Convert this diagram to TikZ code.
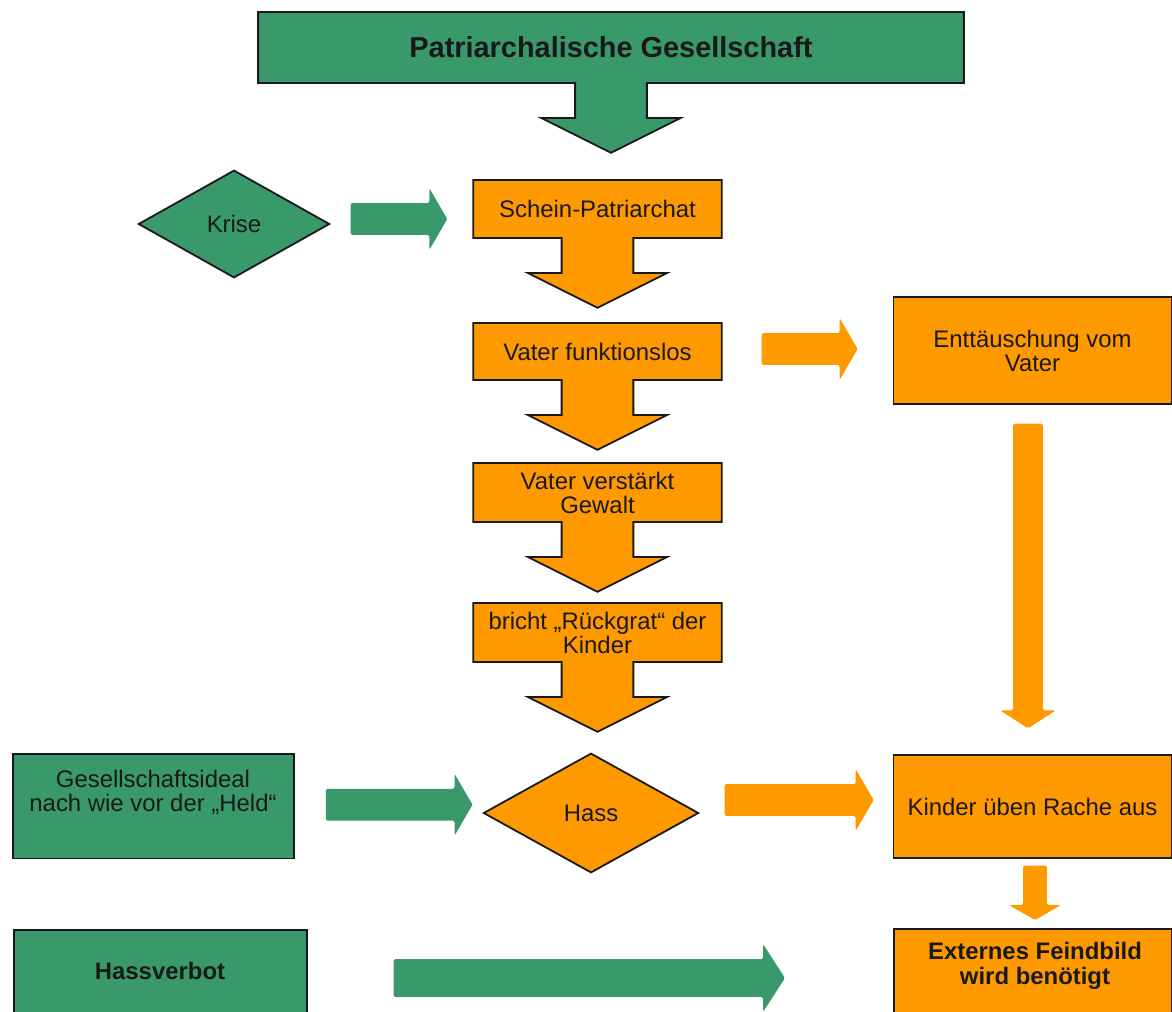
\documentclass[tikz,border=0pt]{standalone}
\usepackage{fontspec}
\setmainfont{Liberation Sans}
\usetikzlibrary{calc,shapes.geometric,backgrounds}

\definecolor{grn}{RGB}{57,153,106}
\definecolor{org}{RGB}{255,153,0}
\definecolor{ink}{RGB}{25,25,25}

% box with a downward block arrow hanging from its lower edge
\newcommand\callout[2]{%
  \filldraw[fill=#2, draw=ink, line width=1.8bp, line join=miter]
    let \p1=(#1.north west), \p2=(#1.south east), \p3=(#1.south) in
    (\x1,\y1) -- (\x2,\y1) -- (\x2,\y2) -- (\x3+36,\y2) -- (\x3+36,\y2-35)
    -- (\x3+70,\y2-35) -- (\x3,\y2-70) -- (\x3-70,\y2-35) -- (\x3-36,\y2-35)
    -- (\x3-36,\y2) -- (\x1,\y2) -- cycle;}

% free block arrow pointing right: colour, start, tip, stem half width, head half width, head length
\newcommand\rarrow[6]{%
  \fill[#1, rounded corners=1.5bp] let \p1=(#2), \p2=(#3) in
    (\x1,\y1+#4) -- (\x2-#6,\y1+#4) -- (\x2-#6,\y1+#5) -- (\x2,\y1)
    -- (\x2-#6,\y1-#5) -- (\x2-#6,\y1-#4) -- (\x1,\y1-#4) -- cycle;}

% free block arrow pointing down
\newcommand\darrow[6]{%
  \fill[#1, rounded corners=1.5bp] let \p1=(#2), \p2=(#3) in
    (\x1-#4,\y1) -- (\x1-#4,\y2+#6) -- (\x1-#5,\y2+#6) -- (\x1,\y2)
    -- (\x1+#5,\y2+#6) -- (\x1+#4,\y2+#6) -- (\x1+#4,\y1) -- cycle;}

\begin{document}
\begin{tikzpicture}[x=1bp,y=-1bp,
  txt/.style={font=\fontsize{24}{24}\selectfont, text=ink, align=center, inner sep=0},
  boldtxt/.style={txt, font=\fontsize{24}{25}\selectfont\bfseries},
  box/.style={txt, draw=ink, line width=1.8bp},
  gbox/.style={box, fill=grn},
  obox/.style={box, fill=org},
  cbox/.style={txt, minimum width=249, minimum height=58},
  dia/.style={txt, diamond, draw=ink, line width=1.8bp}]

\clip (0,0) rectangle (1172,1012);

% main column
\node[txt, minimum width=708, minimum height=71,
      font=\fontsize{29}{29}\selectfont\bfseries] (patri) at (611,47.5) {Patriarchalische Gesellschaft};
\node[cbox] (schein) at (597.5,209) {Schein-Patriarchat};
\node[cbox, minimum height=57] (vfunk) at (597.5,351.5) {Vater funktionslos};
\node[cbox, minimum height=59] (vgew) at (597.5,492.5) {Vater verstärkt\\Gewalt};
\node[cbox, minimum height=59] (rueck) at (597.5,632.5) {bricht „Rückgrat“ der\\Kinder};

\begin{scope}[on background layer]
  \fill[white] (0,0) rectangle (1172,1012);
  \callout{patri}{grn}
  \callout{schein}{org}
  \callout{vfunk}{org}
  \callout{vgew}{org}
  \callout{rueck}{org}
\end{scope}

% diamonds
\node[dia, fill=grn, minimum width=192, minimum height=108] (krise) at (234,224) {Krise};
\node[dia, fill=org, minimum width=216, minimum height=120] (hass) at (591,813) {Hass};

% right column
\node[obox, minimum width=279, minimum height=107] (ent) at (1032.5,350.5) {Enttäuschung vom\\Vater};
\node[obox, minimum width=279, minimum height=103] (kinder) at (1032.5,806.5) {Kinder üben Rache aus};
\node[obox, minimum width=279, minimum height=110, anchor=north west] (ext) at (893,928) {};
\node[boldtxt] (extt) at (1035,966) {Externes Feindbild\\wird benötigt};

% left column
\node[gbox, minimum width=282, minimum height=105, anchor=north west] (ideal) at (12,753) {};
\node[txt] (idealt) at (153,792) {Gesellschaftsideal\\nach wie vor der „Held“};
\node[gbox, minimum width=294, minimum height=110, anchor=north west] (hv) at (13,929) {};
\node[boldtxt] (hvt) at (160,971) {Hassverbot};

% block arrows between the shapes
\coordinate (kr1) at ($(krise.east)+(20,-5)$);
\coordinate (kr2) at ($(schein.west)+(-26,10)$);
\rarrow{grn}{kr1}{kr2}{16}{31}{18}

\coordinate (vf1) at ($(vfunk.east)+(40,-2.5)$);
\coordinate (vf2) at ($(ent.west)+(-35,-1.5)$);
\rarrow{org}{vf1}{vf2}{16}{31}{18}

\coordinate (en1) at ($(ent.south)+(-4.5,19)$);
\coordinate (en2) at ($(kinder.north)+(-4.5,-26)$);
\darrow{org}{en1}{en2}{15}{28}{18}

\coordinate (id1) at ($(ideal.east)+(31,-1.5)$);
\coordinate (id2) at ($(hass.west)+(-10,-9)$);
\rarrow{grn}{id1}{id2}{16}{31}{18}

\coordinate (ha1) at ($(hass.east)+(25,-13)$);
\coordinate (ha2) at ($(kinder.west)+(-19,-6.5)$);
\rarrow{org}{ha1}{ha2}{16}{31}{18}

\coordinate (ki1) at ($(kinder.south)+(2.5,7)$);
\coordinate (ki2) at ($(ext.north)+(2.5,-8)$);
\darrow{org}{ki1}{ki2}{12}{26}{15}

\coordinate (hv1) at ($(hv.north east)+(86,49)$);
\coordinate (hv2) at ($(ext.west)+(-108,-6)$);
\rarrow{grn}{hv1}{hv2}{19}{34}{22}

\end{tikzpicture}
\end{document}
